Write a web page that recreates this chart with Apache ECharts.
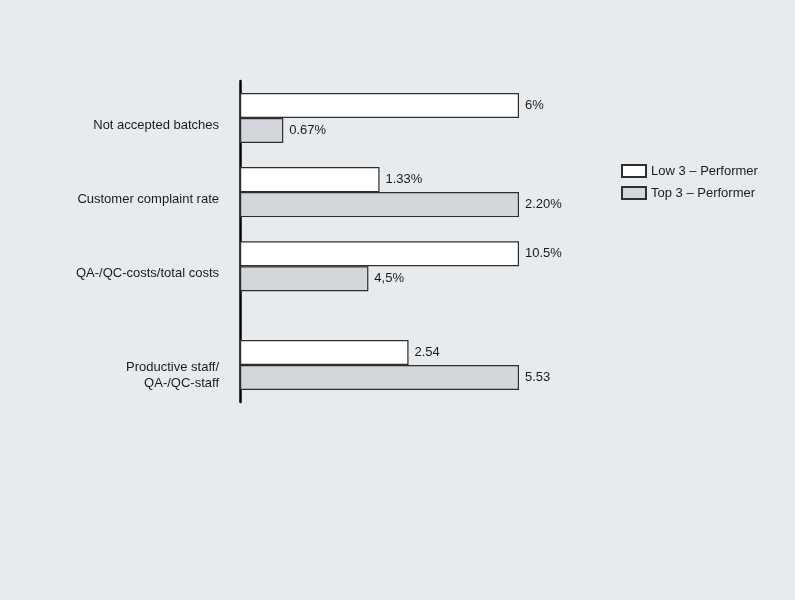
<!DOCTYPE html>
<html>
<head>
<meta charset="utf-8">
<script src="https://cdn.jsdelivr.net/npm/echarts@6/dist/echarts.min.js"></script>
<style>
  html, body { margin: 0; padding: 0; background: #e8ebee; }
  #chart { width: 795px; height: 600px; }
</style>
</head>
<body>
<div id="chart"></div>
<script>
const categories = ['Not accepted batches', 'Customer complaint rate', 'QA-/QC-costs/total costs', 'Productive staff/\nQA-/QC-staff'];
const seriesNames = ['Low 3 \u2013 Performer', 'Top 3 \u2013 Performer'];
// bar lengths as drawn (longest bar of each pair = 100)
const lowLengths = [100, 50, 100, 60.4];
const topLengths = [15.5, 100, 46, 100];
// value labels printed next to the bars
const lowLabels = ['6%', '1.33%', '10.5%', '2.54'];
const topLabels = ['0.67%', '2.20%', '4,5%', '5.53'];

// the categories sit unevenly spaced, so place them on a finer slot grid
const slotCount = 13;
const slotOf = [1, 4, 7, 11];

const font = 'Liberation Sans, Arial, Helvetica, sans-serif';
const txt = { color: '#1a1a1a', fontSize: 13, fontFamily: font, lineHeight: 16 };

function slotted(values, labels) {
  const out = new Array(slotCount).fill('-');
  slotOf.forEach((s, i) => {
    out[s] = { value: values[i], label: { formatter: labels[i] } };
  });
  return out;
}

const yData = new Array(slotCount).fill('');
slotOf.forEach((s, i) => { yData[s] = categories[i]; });

// category names sit a little below the middle of their bar pair
function categoryLabel(value) {
  if (!value) return '';
  const lines = value.split('\n');
  const key = lines.length > 1 ? 'p2' : 'p1';
  return lines.map(l => '{' + key + '|' + l + '}').join('\n');
}

const chart = echarts.init(document.getElementById('chart'));

function barSeries(name, data, color) {
  return {
    name: name,
    type: 'bar',
    data: data,
    barWidth: 25,
    barGap: '0%',
    itemStyle: { color: color, borderColor: '#2e2e2e', borderWidth: 1.2 },
    label: Object.assign({ show: true, position: 'right', distance: 6 }, txt),
    emphasis: { disabled: true },
    animation: false
  };
}

chart.setOption({
  backgroundColor: '#e8ebee',
  legend: {
    orient: 'vertical',
    left: 616,
    top: 159,
    icon: 'rect',
    itemWidth: 24,
    itemHeight: 12,
    itemGap: 8,
    textStyle: { color: '#1a1a1a', fontSize: 13, fontFamily: font },
    data: seriesNames
  },
  grid: { left: 240, top: 81, width: 279, height: 321, containLabel: false },
  xAxis: {
    type: 'value',
    min: 0,
    max: 100,
    show: false
  },
  yAxis: {
    type: 'category',
    inverse: true,
    data: yData,
    axisLine: { show: true, lineStyle: { color: '#000', width: 2.5 } },
    axisTick: { show: false },
    splitLine: { show: false },
    axisLabel: Object.assign({
      interval: 0,
      margin: 21,
      align: 'right',
      formatter: categoryLabel,
      rich: {
        p1: Object.assign({ padding: [14, 0, 0, 0] }, txt),
        p2: Object.assign({ padding: [20, 0, 0, 0] }, txt)
      }
    }, txt)
  },
  series: [
    barSeries(seriesNames[0], slotted(lowLengths, lowLabels), '#ffffff'),
    barSeries(seriesNames[1], slotted(topLengths, topLabels), '#d3d6da')
  ]
});
</script>
</body>
</html>
